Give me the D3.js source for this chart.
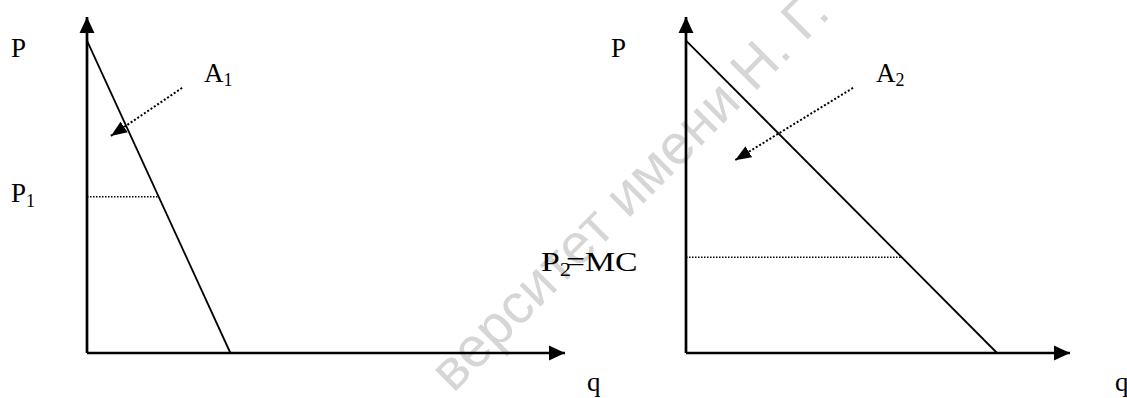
<!DOCTYPE html>
<html>
<head>
<meta charset="utf-8">
<script src="https://cdn.jsdelivr.net/npm/d3@7"></script>
<style>
  body { margin: 0; background: #fff; }
  svg text { font-family: "Liberation Serif", "Times New Roman", serif; fill: #000; }
</style>
</head>
<body>
<div id="chart"></div>
<script>
// two demand diagrams, values in arbitrary units (0..100 on both axes)
var panelNames = ["left", "right"];
var demandLeft = [{ q: 0, p: 93 }, { q: 30, p: 0 }];
var demandRight = [{ q: 0, p: 93 }, { q: 81, p: 0 }];
var priceLevels = [46.5, 28.5];            // P1, P2=MC
var pointerFrom = [{ q: 19.9, p: 78.9 }, { q: 43.5, p: 78.9 }];
var pointerTo = [{ q: 5.0, p: 64.6 }, { q: 12.8, p: 57.4 }];
var areaLabels = ["A", "A"];
var areaSubs = ["1", "2"];
var priceLabels = [["P", "1", ""], ["P", "2", "=MC"]];
var watermark = "верситет имени Н. Г.";

var width = 1127, height = 398;

var svg = d3.select("#chart")
    .append("svg")
    .attr("width", width)
    .attr("height", height);

var defs = svg.append("defs");
defs.append("marker")
    .attr("id", "axisHead")
    .attr("markerUnits", "userSpaceOnUse")
    .attr("markerWidth", 16).attr("markerHeight", 16)
    .attr("viewBox", "0 -7 15 14")
    .attr("refX", 15).attr("refY", 0)
    .attr("orient", "auto")
    .append("path").attr("d", "M0,-7L15,0L0,7Z").attr("fill", "#000");
defs.append("marker")
    .attr("id", "ptrHead")
    .attr("markerUnits", "userSpaceOnUse")
    .attr("markerWidth", 16).attr("markerHeight", 14)
    .attr("viewBox", "0 -6 15 12")
    .attr("refX", 15).attr("refY", 0)
    .attr("orient", "auto")
    .append("path").attr("d", "M0,-6L15,0L0,6Z").attr("fill", "#000");

// watermark behind everything
svg.append("text")
    .attr("transform", "translate(832,15) rotate(-45)")
    .attr("text-anchor", "end")
    .style("font-family", "'Liberation Sans', Arial, sans-serif")
    .style("font-size", "56px")
    .style("fill", "#d6d6d6")
    .text(watermark);

// scales for each panel
var xs = [
    d3.scaleLinear().domain([0, 100]).range([87, 565]),
    d3.scaleLinear().domain([0, 100]).range([686, 1070])
];
var y = d3.scaleLinear().domain([0, 100]).range([353, 17]);
var demands = [demandLeft, demandRight];

panelNames.forEach(function (name, i) {
    var x = xs[i];
    var g = svg.append("g").attr("class", "panel-" + name);
    var line = d3.line()
        .x(function (d) { return x(d.q); })
        .y(function (d) { return y(d.p); });

    // axes
    g.append("path")
        .attr("d", line([{ q: 0, p: 0 }, { q: 0, p: 100 }]))
        .attr("stroke", "#000").attr("stroke-width", 2.7)
        .attr("marker-end", "url(#axisHead)");
    g.append("path")
        .attr("d", line([{ q: 0, p: 0 }, { q: 100, p: 0 }]))
        .attr("stroke", "#000").attr("stroke-width", 2.7)
        .attr("marker-end", "url(#axisHead)");

    // demand
    var dem = demands[i];
    g.append("path")
        .datum(dem)
        .attr("d", line)
        .attr("fill", "none")
        .attr("stroke", "#000").attr("stroke-width", 1.8);

    // dotted price level up to demand
    var pl = priceLevels[i];
    var qAt = dem[1].q * (1 - pl / dem[0].p);
    g.append("path")
        .attr("d", line([{ q: 0, p: pl }, { q: qAt, p: pl }]))
        .attr("stroke", "#000").attr("stroke-width", 1.3)
        .attr("stroke-dasharray", "1.5,1.5");

    // dotted pointer arrow
    g.append("path")
        .attr("d", line([pointerFrom[i], pointerTo[i]]))
        .attr("stroke", "#000").attr("stroke-width", 2)
        .attr("stroke-dasharray", "2,2")
        .attr("marker-end", "url(#ptrHead)");

    // labels
    var px = i === 0 ? 11 : 611;
    g.append("text").attr("x", px).attr("y", 57)
        .style("font-size", "27px").text("P");

    var ax = i === 0 ? 204 : 876;
    var at = g.append("text").attr("x", ax).attr("y", 82).style("font-size", "27px");
    at.append("tspan").text(areaLabels[i]);
    at.append("tspan").attr("dy", 4).style("font-size", "18px").text(areaSubs[i]);

    var lab = priceLabels[i];
    var pt = g.append("text").style("font-size", "27px");
    if (i === 0) {
        pt.attr("x", 11).attr("y", 202);
    } else {
        pt.attr("transform", "translate(541,271) scale(1.25,1)");
    }
    pt.append("tspan").text(lab[0]);
    pt.append("tspan").attr("dy", 5).style("font-size", "18px").text(lab[1]);
    if (lab[2]) pt.append("tspan").attr("dy", -5).attr("dx", -4).text(lab[2]);

    var qx = i === 0 ? 587 : 1115;
    g.append("text").attr("x", qx).attr("y", 391)
        .style("font-size", "27px").text("q");
});
</script>
</body>
</html>
